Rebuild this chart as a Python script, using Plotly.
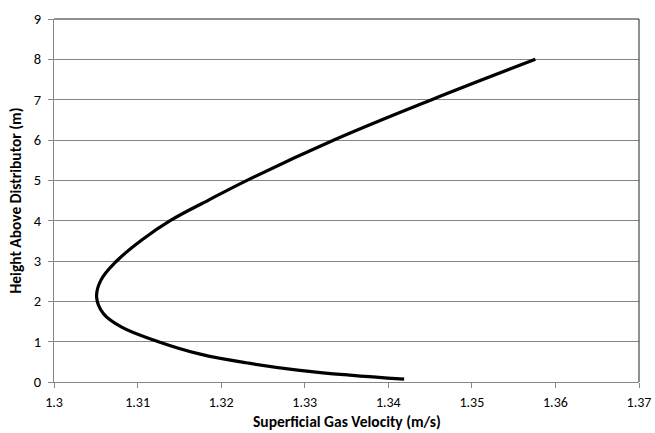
import plotly.graph_objects as go

# Superficial gas velocity profile along the bed height
height_m = [0.07, 0.17, 0.29, 0.46, 0.69, 1.0, 1.36, 1.70, 2.1, 2.52,
            3.0, 3.52, 4.0, 4.51, 5.0, 6.0, 7.0, 8.0]
velocity_ms = [1.3419, 1.3354, 1.3294, 1.3235, 1.3175, 1.3125, 1.3081, 1.3059,
               1.3051, 1.3056, 1.3075, 1.3105, 1.3139, 1.3185, 1.3231,
               1.3335, 1.3452, 1.3576]

x_ticks = [1.3, 1.31, 1.32, 1.33, 1.34, 1.35, 1.36, 1.37]
y_ticks = list(range(0, 10))

font_family = "Carlito, Calibri, Lato, sans-serif"

fig = go.Figure()
fig.add_trace(go.Scatter(
    x=velocity_ms, y=height_m, mode="lines",
    line=dict(color="black", width=3.2, shape="spline", smoothing=1.1),
    showlegend=False, hoverinfo="skip",
))

fig.update_layout(
    width=655, height=433,
    margin=dict(l=54, r=16, t=19, b=51),
    paper_bgcolor="white", plot_bgcolor="white",
    font=dict(family=font_family, size=14, color="black"),
    xaxis=dict(
        range=[1.3, 1.37], tickvals=x_ticks,
        ticktext=[f"{v:g}" for v in x_ticks],
        showgrid=False, zeroline=False, automargin=False,
        showline=True, linecolor="#868686", linewidth=1,
        ticks="outside", ticklen=5, tickcolor="#868686",
        ticklabelstandoff=2,
        tickfont=dict(size=14),
    ),
    yaxis=dict(
        range=[0, 9], tickvals=y_ticks,
        showgrid=True, gridcolor="#868686", gridwidth=1,
        zeroline=False, automargin=False,
        showline=True, linecolor="#868686", linewidth=1,
        ticks="outside", ticklen=5, tickcolor="#868686",
        ticklabelstandoff=4,
        tickfont=dict(size=14.5),
        title=dict(text="<b>Height Above Distributor (m)</b>",
                   font=dict(size=15.5), standoff=8),
    ),
)

# x-axis title placed just under the tick labels
fig.add_annotation(
    text="<b>Superficial Gas Velocity (m/s)</b>",
    xref="paper", yref="paper", x=0.5, y=-0.108,
    xanchor="center", yanchor="middle", showarrow=False,
    font=dict(size=15.5),
)

# dark frame on top and right edges of the plot area
fig.add_shape(type="line", xref="x domain", yref="y domain",
              x0=0, x1=1, y0=1, y1=1, line=dict(color="#222222", width=1))
fig.add_shape(type="line", xref="x domain", yref="y domain",
              x0=1, x1=1, y0=0, y1=1, line=dict(color="#222222", width=1))

fig.write_html("out.html")
